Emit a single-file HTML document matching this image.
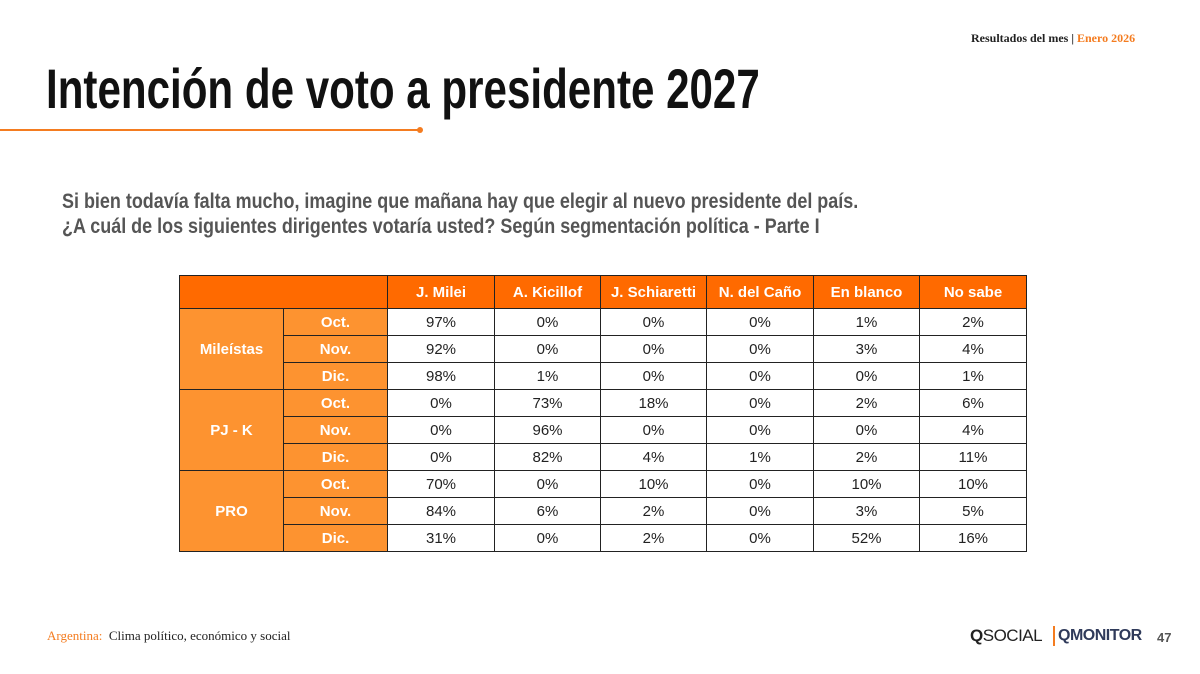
<!DOCTYPE html>
<html><head><meta charset="utf-8"><style>
body{margin:0;width:1200px;height:674px;background:#fff;position:relative;overflow:hidden;font-family:"Liberation Sans",sans-serif}
.a{position:absolute;white-space:nowrap}
table{position:absolute;left:179px;top:275px;border-collapse:collapse;font-size:15px}
td{border:1.5px solid #222;text-align:center;height:26px;padding:0;color:#222}
tr.h td{background:#ff6a00;color:#fff;font-weight:bold;height:32px}
td.g{background:#fd9330;color:#fff;font-weight:bold}
</style></head><body>
<div class="a" style="left:971px;top:31px;font-family:'Liberation Serif',serif;font-size:12px;font-weight:bold;color:#222">Resultados del mes | <span style="color:#f47c20">Enero 2026</span></div>
<div class="a" style="left:46px;top:56px;font-weight:bold;font-size:56px;color:#111;transform:scaleX(0.752);transform-origin:left">Intención de voto a presidente 2027</div>
<div class="a" style="left:0;top:129px;width:420px;height:2px;background:#f47c20"></div>
<div class="a" style="left:417px;top:127px;width:6px;height:6px;border-radius:50%;background:#f47c20"></div>
<div class="a" style="left:62px;top:189px;font-weight:bold;font-size:21px;color:#555;line-height:25px;transform:scaleX(0.855);transform-origin:left">Si bien todavía falta mucho, imagine que mañana hay que elegir al nuevo presidente del país.<br>¿A cuál de los siguientes dirigentes votaría usted? Según segmentación política - Parte I</div>
<table>
<colgroup><col style="width:104px"><col style="width:104px"><col style="width:107px"><col style="width:106px"><col style="width:106px"><col style="width:107px"><col style="width:106px"><col style="width:107px"></colgroup>
<tr class="h"><td colspan="2"></td><td>J. Milei</td><td>A. Kicillof</td><td>J. Schiaretti</td><td>N. del Caño</td><td>En blanco</td><td>No sabe</td></tr>
<tr><td class="g" rowspan="3">Mileístas</td><td class="g">Oct.</td><td>97%</td><td>0%</td><td>0%</td><td>0%</td><td>1%</td><td>2%</td></tr>
<tr><td class="g">Nov.</td><td>92%</td><td>0%</td><td>0%</td><td>0%</td><td>3%</td><td>4%</td></tr>
<tr><td class="g">Dic.</td><td>98%</td><td>1%</td><td>0%</td><td>0%</td><td>0%</td><td>1%</td></tr>
<tr><td class="g" rowspan="3">PJ - K</td><td class="g">Oct.</td><td>0%</td><td>73%</td><td>18%</td><td>0%</td><td>2%</td><td>6%</td></tr>
<tr><td class="g">Nov.</td><td>0%</td><td>96%</td><td>0%</td><td>0%</td><td>0%</td><td>4%</td></tr>
<tr><td class="g">Dic.</td><td>0%</td><td>82%</td><td>4%</td><td>1%</td><td>2%</td><td>11%</td></tr>
<tr><td class="g" rowspan="3">PRO</td><td class="g">Oct.</td><td>70%</td><td>0%</td><td>10%</td><td>0%</td><td>10%</td><td>10%</td></tr>
<tr><td class="g">Nov.</td><td>84%</td><td>6%</td><td>2%</td><td>0%</td><td>3%</td><td>5%</td></tr>
<tr><td class="g">Dic.</td><td>31%</td><td>0%</td><td>2%</td><td>0%</td><td>52%</td><td>16%</td></tr>
</table>
<div class="a" style="left:47px;top:628px;font-family:'Liberation Serif',serif;font-size:13px;color:#222"><span style="color:#f47c20">Argentina:</span>&nbsp; Clima político, económico y social</div>
<div class="a" style="left:970px;top:626px;font-size:17px;color:#222;letter-spacing:-0.5px"><b>Q</b>SOCIAL</div>
<div class="a" style="left:1053px;top:626px;width:2px;height:20px;background:#f47c20"></div>
<div class="a" style="left:1058px;top:627px;font-size:16px;font-weight:bold;color:#2f3a5a;letter-spacing:-0.5px">QMONITOR</div>
<div class="a" style="left:1157px;top:630px;font-size:13px;font-weight:bold;color:#555">47</div>
</body></html>
